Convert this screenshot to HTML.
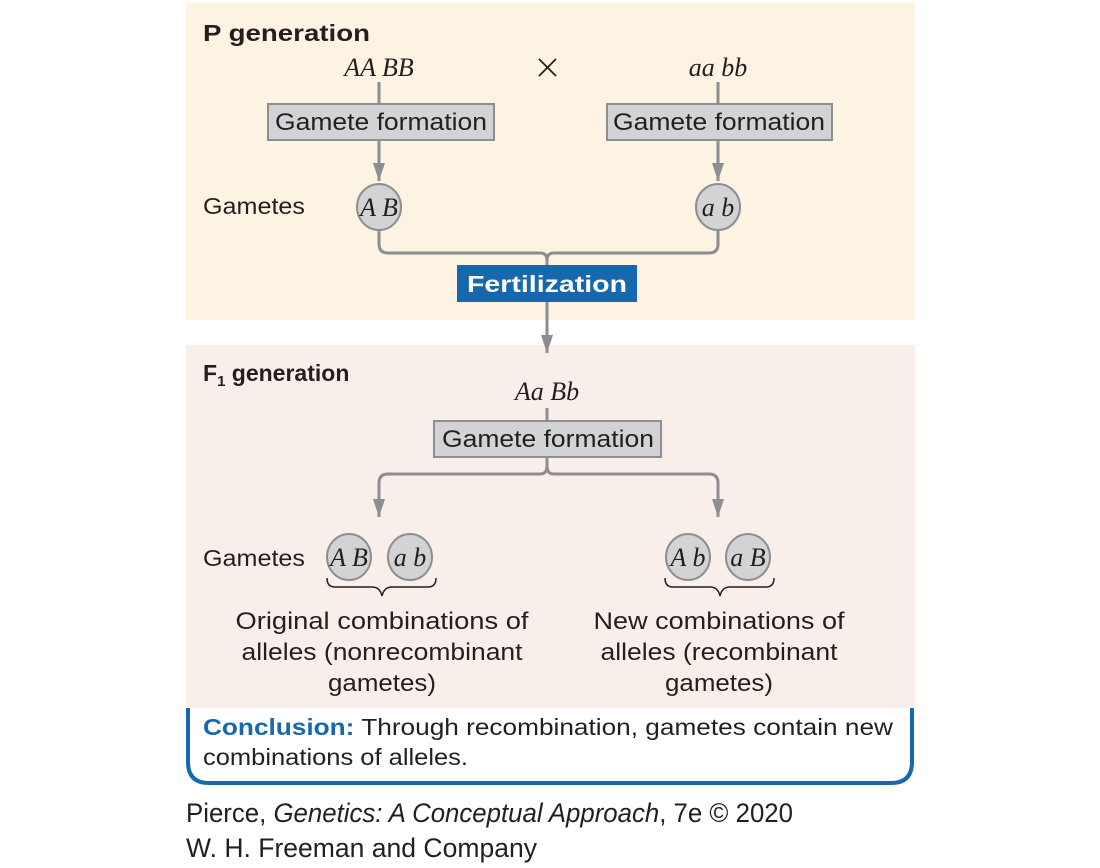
<!DOCTYPE html>
<html><head><meta charset="utf-8"><style>html,body{margin:0;padding:0;background:#fff}svg{display:block}</style></head><body>
<svg width="1100" height="868" viewBox="0 0 1100 868" xmlns="http://www.w3.org/2000/svg" font-family="Liberation Sans, sans-serif">
<defs><marker id="ar" markerWidth="19" markerHeight="13" refX="18" refY="6" orient="auto" markerUnits="userSpaceOnUse"><path d="M0,0 L18,6 L0,12 Z" fill="#8d8e91"/></marker></defs>
<rect x="186" y="3" width="729" height="317" fill="#fcf3e3"/>
<rect x="186" y="345" width="729" height="363" fill="#f9efea"/>
<path d="M188,708 V762 Q188,783 209,783 H891 Q912,783 912,762 V708" fill="none" stroke="#1868ad" stroke-width="4"/>
<g fill="#231f20">
<text x="203" y="41" font-size="23" font-weight="bold" textLength="167" lengthAdjust="spacingAndGlyphs">P generation</text>
<text x="379" y="76" font-size="26" font-style="italic" font-family="Liberation Serif, serif" text-anchor="middle">AA BB</text>
<text x="718" y="76" font-size="26" font-style="italic" font-family="Liberation Serif, serif" text-anchor="middle">aa bb</text>
<text x="203" y="214" font-size="23" textLength="102" lengthAdjust="spacingAndGlyphs">Gametes</text>
</g>
<g stroke="#231f20" stroke-width="1.8"><line x1="539" y1="59" x2="556" y2="76"/><line x1="556" y1="59" x2="539" y2="76"/></g>
<g stroke="#8d8e91" stroke-width="3" fill="none">
<line x1="379" y1="82" x2="379" y2="103"/><line x1="718" y1="82" x2="718" y2="103"/>
<line x1="379" y1="140" x2="379" y2="181" marker-end="url(#ar)"/>
<line x1="718" y1="140" x2="718" y2="181" marker-end="url(#ar)"/>
<path d="M379,230 V244 Q379,253 388,253 H540 Q547,253 547,260 V265 M718,230 V244 Q718,253 709,253 H554 Q547,253 547,260"/>
<line x1="547" y1="302" x2="547" y2="353" marker-end="url(#ar)"/>
<line x1="547" y1="408" x2="547" y2="420"/>
<path d="M547,457 V466 Q547,474 540,474 H388 Q379,474 379,483 V500 M547,466 Q547,474 554,474 H709 Q718,474 718,483 V500"/>
<line x1="379" y1="495" x2="379" y2="517" marker-end="url(#ar)"/>
<line x1="718" y1="495" x2="718" y2="517" marker-end="url(#ar)"/>
</g>
<g fill="#d3d3d5" stroke="#8d8e91" stroke-width="2">
<rect x="268" y="104" width="226" height="36"/><rect x="607" y="104" width="225" height="36"/>
<rect x="434" y="421" width="227" height="36"/>
<ellipse cx="379" cy="207" rx="22" ry="23"/><ellipse cx="718" cy="207" rx="22" ry="23"/>
<ellipse cx="349" cy="557" rx="22" ry="23"/><ellipse cx="410" cy="557" rx="22" ry="23"/>
<ellipse cx="688" cy="557" rx="22" ry="23"/><ellipse cx="748" cy="557" rx="22" ry="23"/>
</g>
<g fill="#231f20" font-size="24">
<text x="381" y="130" text-anchor="middle" textLength="212" lengthAdjust="spacingAndGlyphs">Gamete formation</text>
<text x="719" y="130" text-anchor="middle" textLength="212" lengthAdjust="spacingAndGlyphs">Gamete formation</text>
<text x="548" y="447" text-anchor="middle" textLength="212" lengthAdjust="spacingAndGlyphs">Gamete formation</text>
</g>
<g fill="#231f20" font-size="26" font-style="italic" font-family="Liberation Serif, serif" text-anchor="middle">
<text x="379" y="216">A B</text><text x="718" y="216">a b</text>
<text x="349" y="566">A B</text><text x="410" y="566">a b</text>
<text x="688" y="566">A b</text><text x="748" y="566">a B</text>
<text x="547" y="400">Aa Bb</text>
</g>
<rect x="457" y="265" width="180" height="37" fill="#1568ad"/>
<text x="547" y="292" fill="#fff" font-size="23" font-weight="bold" text-anchor="middle" textLength="160" lengthAdjust="spacingAndGlyphs">Fertilization</text>
<g fill="#231f20">
<text x="203" y="381" font-size="23" font-weight="bold">F<tspan font-size="15" dy="5">1</tspan><tspan dy="-5"> generation</tspan></text>
<text x="203" y="566" font-size="23" textLength="102" lengthAdjust="spacingAndGlyphs">Gametes</text>
</g>
<g stroke="#231f20" stroke-width="1.5" fill="none">
<path d="M327,578 Q327,587 335,587 H372 Q380,587 382,596 Q384,587 392,587 H428 Q436,587 436,578"/>
<path d="M665,578 Q665,587 673,587 H710 Q718,587 720,596 Q722,587 730,587 H766 Q774,587 774,578"/>
</g>
<g fill="#231f20" font-size="24" text-anchor="middle">
<text x="382" y="629" textLength="293" lengthAdjust="spacingAndGlyphs">Original combinations of</text>
<text x="382" y="660" textLength="281" lengthAdjust="spacingAndGlyphs">alleles (nonrecombinant</text>
<text x="382" y="691" textLength="108" lengthAdjust="spacingAndGlyphs">gametes)</text>
<text x="719" y="629" textLength="251" lengthAdjust="spacingAndGlyphs">New combinations of</text>
<text x="719" y="660" textLength="237" lengthAdjust="spacingAndGlyphs">alleles (recombinant</text>
<text x="719" y="691" textLength="108" lengthAdjust="spacingAndGlyphs">gametes)</text>
</g>
<g font-size="23" fill="#231f20">
<text x="203" y="735" textLength="690" lengthAdjust="spacingAndGlyphs"><tspan fill="#1868ad" font-weight="bold">Conclusion:</tspan> Through recombination, gametes contain new</text>
<text x="203" y="765" textLength="265" lengthAdjust="spacingAndGlyphs">combinations of alleles.</text>
</g>
<g font-size="27" fill="#231f20">
<text x="186" y="822" textLength="607" lengthAdjust="spacingAndGlyphs">Pierce, <tspan font-style="italic">Genetics: A Conceptual Approach</tspan>, 7e © 2020</text>
<text x="186" y="857" textLength="351" lengthAdjust="spacingAndGlyphs">W. H. Freeman and Company</text>
</g>
</svg>
</body></html>
